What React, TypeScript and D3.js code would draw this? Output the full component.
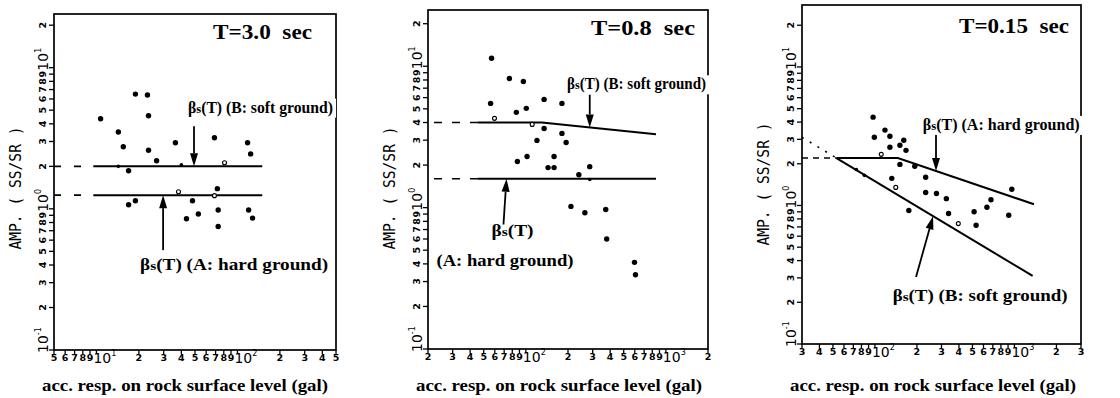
import React from "react";
import * as d3 from "d3";

type Pt = [number, number];

// ---------------- Panel 1 : T = 3.0 sec ----------------
const p1Filled: Pt[] = [
  [10.7, 4.35], [18.9, 6.5], [23.0, 6.4], [23.4, 4.57], [14.3, 3.5], [15.5, 2.75],
  [23.4, 2.6], [26.7, 2.19], [36.3, 2.94], [68.7, 3.19], [118, 2.94], [124, 2.45],
  [16.9, 1.86], [72, 1.39], [16.9, 1.07], [18.9, 1.14], [48, 1.14], [43.5, 0.85],
  [52.8, 0.92], [73, 0.98], [73, 0.75], [120, 0.98], [128, 0.86],
];
const p1Small: Pt[] = [[40, 2.05], [14.3, 2.0]];
const p1Open: Pt[] = [[81, 2.12], [38.2, 1.32], [68.7, 1.24]];
const p1SoftLine: Pt[] = [[9.5, 2.0], [150, 2.0]];
const p1HardLine: Pt[] = [[9.5, 1.25], [150, 1.25]];
const p1SoftExt: Pt[] = [[5, 2.0], [9.5, 2.0]];
const p1HardExt: Pt[] = [[5, 1.25], [9.5, 1.25]];

// ---------------- Panel 2 : T = 0.8 sec ----------------
const p2Filled: Pt[] = [
  [56.9, 11.4], [56, 5.46], [76.3, 8.2], [96, 7.8], [85.5, 4.72], [100.7, 5.04],
  [135, 5.83], [181, 5.46], [135, 3.63], [120, 2.99], [181, 3.35], [194, 2.89],
  [87, 2.12], [102, 2.3], [159, 2.3], [144, 1.92], [159, 1.92], [239, 1.71],
  [286, 1.95], [210, 1.02], [264, 0.92], [372, 0.97], [378, 0.6], [597, 0.41], [607, 0.335],
];
const p2Small: Pt[] = [[286, 1.58]];
const p2Open: Pt[] = [[59.7, 4.28], [111, 3.88]];
const p2SoftLine: Pt[] = [[45, 4.0], [130, 4.0], [850, 3.3]];
const p2HardLine: Pt[] = [[45, 1.6], [850, 1.6]];
const p2SoftExt: Pt[] = [[20, 4.0], [45, 4.0]];
const p2HardExt: Pt[] = [[20, 1.6], [45, 1.6]];

// ---------------- Panel 3 : T = 0.15 sec ----------------
const p3Filled: Pt[] = [
  [97, 4.34], [99, 3.11], [118, 3.5], [128, 3.16], [128, 2.63], [151, 2.72],
  [161, 2.96], [167, 2.5], [151, 1.98], [193, 1.92], [231, 1.6], [132, 1.57],
  [231, 1.24], [276, 1.22], [325, 1.12], [679, 1.1], [957, 1.31], [175, 0.92],
  [337, 0.875], [514, 0.9], [531, 0.72], [635, 0.97], [910, 0.85],
];
const p3Small: Pt[] = [[73.6, 1.82], [84, 1.65]];
const p3Open: Pt[] = [[111, 2.34], [141, 1.35], [396, 0.74]];
const p3HardLine: Pt[] = [[53, 2.2], [146, 2.2], [1380, 1.02]];
const p3SoftLine: Pt[] = [[53, 2.2], [1350, 0.31]];
const p3SoftExt: Pt[] = [[30, 3.1], [53, 2.2]];
const p3LevelExt: Pt[] = [[30, 2.2], [53, 2.2]];

// ---------------- texts ----------------
const titles = ["T=3.0  sec", "T=0.8  sec", "T=0.15  sec"];
const xAxisTitle = "acc. resp. on rock surface level (gal)";
const yAxisTitle = "AMP. ( SS/SR )";
const softLabel = "βs(T) (B: soft ground)";
const hardLabel = "βs(T) (A: hard ground)";

type Txt = { x: number; y: number; s: string; w: number; bg?: boolean };
type Arrow = { x1: number; y1: number; x2: number; y2: number };
type Cfg = {
  frame: { l: number; r: number; t: number; b: number };
  xDomain: [number, number];
  yDomain: [number, number];
  filled: Pt[];
  small: Pt[];
  open: Pt[];
  solid: Pt[][];
  dashed: Pt[][];
  dotted: Pt[][];
  dash: string;
  title: { s: string; x: number; y: number; w: number };
  texts: Txt[];
  arrows: Arrow[];
  yLabelY: number;
};

const panels: Cfg[] = [
  {
    frame: { l: 54, r: 336, t: 14, b: 350 },
    xDomain: [5, 500],
    yDomain: [0.1, 24],
    filled: p1Filled, small: p1Small, open: p1Open,
    solid: [p1SoftLine, p1HardLine],
    dashed: [p1SoftExt, p1HardExt],
    dotted: [],
    dash: "7,13",
    title: { s: titles[0], x: 213, y: 39, w: 99 },
    texts: [
      { x: 44.6, y: 4.8, s: softLabel, w: 145, bg: true },
      { x: 20.4, y: 0.37, s: hardLabel, w: 188 },
    ],
    arrows: [
      { x1: 49.2, y1: 3.85, x2: 49.2, y2: 2.0 },
      { x1: 29.7, y1: 0.51, x2: 29.7, y2: 1.25 },
    ],
    yLabelY: 188,
  },
  {
    frame: { l: 428, r: 708, t: 10, b: 349 },
    xDomain: [20, 2000],
    yDomain: [0.1, 25],
    filled: p2Filled, small: p2Small, open: p2Open,
    solid: [p2SoftLine, p2HardLine],
    dashed: [p2SoftExt, p2HardExt],
    dotted: [],
    dash: "0,6,8,4",
    title: { s: titles[1], x: 591, y: 35, w: 104 },
    texts: [
      { x: 197, y: 6.87, s: softLabel, w: 139, bg: true },
      { x: 56.9, y: 0.633, s: "βs(T)", w: 42 },
      { x: 23, y: 0.388, s: "(A: hard ground)", w: 137 },
    ],
    arrows: [
      { x1: 286, y1: 6.3, x2: 286, y2: 3.69 },
      { x1: 69.2, y1: 0.76, x2: 72.7, y2: 1.6 },
    ],
    yLabelY: 188,
  },
  {
    frame: { l: 802, r: 1081, t: 5, b: 344 },
    xDomain: [30, 3000],
    yDomain: [0.1, 28],
    filled: p3Filled, small: p3Small, open: p3Open,
    solid: [p3HardLine, p3SoftLine],
    dashed: [p3LevelExt],
    dotted: [p3SoftExt],
    dash: "6,5",
    title: { s: titles[2], x: 959, y: 33, w: 110 },
    texts: [
      { x: 220, y: 3.51, s: hardLabel, w: 157, bg: true },
      { x: 134, y: 0.204, s: softLabel, w: 175 },
    ],
    arrows: [
      { x1: 274, y1: 3.34, x2: 274, y2: 1.77 },
      { x1: 197, y1: 0.305, x2: 261, y2: 0.835 },
    ],
    yLabelY: 184,
  },
];

const SERIF = "'Liberation Serif', 'Times New Roman', serif";
const SANS = "'DejaVu Sans', sans-serif";
const MONO = "'DejaVu Sans Mono', monospace";

function decomp(v: number) {
  const e = Math.floor(Math.log10(v) + 1e-9);
  const m = Math.round(v / Math.pow(10, e));
  return { e, m };
}

function Label({ s }: { s: string }) {
  if (s.startsWith("βs")) {
    return (
      <>
        β<tspan fontSize="0.8em">s</tspan>
        {s.slice(2)}
      </>
    );
  }
  return <>{s}</>;
}

function Panel({ cfg }: { cfg: Cfg }) {
  const f = cfg.frame;
  const x = d3.scaleLog().domain(cfg.xDomain).range([f.l, f.r]);
  const y = d3.scaleLog().domain(cfg.yDomain).range([f.b, f.t]);
  const line = d3.line<Pt>().x((d) => x(d[0])).y((d) => y(d[1]));
  const xt = x.ticks();
  const yt = y.ticks();

  return (
    <g>
      {/* frame */}
      <rect x={f.l} y={f.t} width={f.r - f.l} height={f.b - f.t} fill="none" stroke="#000" strokeWidth={1.7} />

      {/* x ticks */}
      {xt.map((v, i) => {
        const { e, m } = decomp(v);
        const px = x(v);
        return (
          <g key={"xt" + i}>
            <line x1={px} x2={px} y1={f.b} y2={f.b + 4} stroke="#000" strokeWidth={1.3} />
            {m === 1 ? (
              <text x={px - 3} y={f.b + 13} fontFamily={SANS} fontSize={14} textAnchor="start">
                10
                <tspan fontSize={8} dy={-7}>{e}</tspan>
              </text>
            ) : (
              <text x={px} y={f.b + 11} fontFamily={SANS} fontSize={9.5} fontWeight="bold" textAnchor="middle">
                {m}
              </text>
            )}
          </g>
        );
      })}

      {/* y ticks */}
      {yt.map((v, i) => {
        const { e, m } = decomp(v);
        const py = y(v);
        return (
          <g key={"yt" + i}>
            <line x1={f.l - 5} x2={f.l} y1={py} y2={py} stroke="#000" strokeWidth={1.3} />
            {m === 1 ? (
              <text
                transform={`translate(${f.l - 6},${py}) rotate(-90)`}
                x={-3}
                fontFamily={SANS}
                fontSize={14}
                textAnchor="start"
              >
                10
                <tspan fontSize={8} dy={-7}>{e}</tspan>
              </text>
            ) : (
              <text
                transform={`translate(${f.l - 8},${py}) rotate(-90)`}
                fontFamily={SANS}
                fontSize={9.5}
                fontWeight="bold"
                textAnchor="middle"
              >
                {m}
              </text>
            )}
          </g>
        );
      })}

      {/* axis titles */}
      <text
        transform={`translate(${f.l - 33},${cfg.yLabelY}) rotate(-90)`}
        fontFamily={MONO}
        fontSize={15}
        textAnchor="middle"
        textLength={123}
        lengthAdjust="spacingAndGlyphs"
      >
        {yAxisTitle}
      </text>
      <text
        x={f.l - 12}
        y={391}
        fontFamily={SERIF}
        fontWeight="bold"
        fontSize={17}
        textLength={286}
        lengthAdjust="spacingAndGlyphs"
      >
        {xAxisTitle}
      </text>

      {/* title */}
      <text
        x={cfg.title.x}
        y={cfg.title.y}
        fontFamily={SERIF}
        fontWeight="bold"
        fontSize={22}
        textLength={cfg.title.w}
        lengthAdjust="spacingAndGlyphs"
        style={{ whiteSpace: "pre" }}
      >
        {cfg.title.s}
      </text>

      {/* model lines */}
      {cfg.dashed.map((d, i) => (
        <path key={"ds" + i} d={line(d) || ""} fill="none" stroke="#000" strokeWidth={1.6} strokeDasharray={cfg.dash} />
      ))}
      {cfg.dotted.map((d, i) => (
        <path key={"dt" + i} d={line(d) || ""} fill="none" stroke="#000" strokeWidth={1.6} strokeDasharray="2,7" />
      ))}
      {cfg.solid.map((d, i) => (
        <path key={"sl" + i} d={line(d) || ""} fill="none" stroke="#000" strokeWidth={2} />
      ))}

      {/* points */}
      {cfg.filled.map((d, i) => (
        <circle key={"f" + i} cx={x(d[0])} cy={y(d[1])} r={2.7} fill="#000" />
      ))}
      {cfg.small.map((d, i) => (
        <circle key={"s" + i} cx={x(d[0])} cy={y(d[1])} r={1.8} fill="#000" />
      ))}
      {cfg.open.map((d, i) => (
        <circle key={"o" + i} cx={x(d[0])} cy={y(d[1])} r={2} fill="#fff" stroke="#000" strokeWidth={1.1} />
      ))}

      {/* arrows */}
      {cfg.arrows.map((a, i) => {
        const X1 = x(a.x1), Y1 = y(a.y1), X2 = x(a.x2), Y2 = y(a.y2);
        const ang = Math.atan2(Y2 - Y1, X2 - X1);
        const L = 13, Wd = 4;
        const bx = X2 - L * Math.cos(ang), by = Y2 - L * Math.sin(ang);
        const nx = -Math.sin(ang) * Wd, ny = Math.cos(ang) * Wd;
        return (
          <g key={"a" + i}>
            <line x1={X1} y1={Y1} x2={bx} y2={by} stroke="#000" strokeWidth={1.8} />
            <polygon points={`${X2},${Y2} ${bx + nx},${by + ny} ${bx - nx},${by - ny}`} fill="#000" />
          </g>
        );
      })}

      {/* annotation texts */}
      {cfg.texts.map((t, i) => {
        const tx = x(t.x), ty = y(t.y);
        return (
          <g key={"t" + i}>
            {t.bg && <rect x={tx - 1} y={ty - 14} width={t.w + 4} height={19} fill="#fff" />}
            <text
              x={tx}
              y={ty}
              fontFamily={SERIF}
              fontWeight="bold"
              fontSize={16}
              textLength={t.w}
              lengthAdjust="spacingAndGlyphs"
            >
              <Label s={t.s} />
            </text>
          </g>
        );
      })}
    </g>
  );
}

export default function App() {
  return (
    <svg width={1120} height={398} style={{ position: "absolute", left: 0, top: 0, background: "#fff" }}>
      <rect x={0} y={0} width={1120} height={398} fill="#fff" />
      {panels.map((p, i) => (
        <Panel key={i} cfg={p} />
      ))}
    </svg>
  );
}
